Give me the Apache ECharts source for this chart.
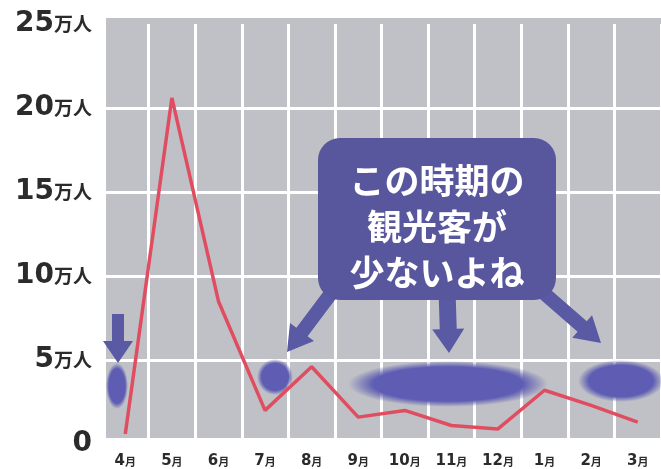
<!DOCTYPE html>
<html>
<head>
<meta charset="utf-8">
<script src="https://cdn.jsdelivr.net/npm/echarts@6/dist/echarts.min.js"></script>
<style>
html,body{margin:0;padding:0;background:#fff;}
#chart{width:661px;height:469px;}
</style>
</head>
<body>
<div id="chart"></div>
<script>
// ---- data ----
const months = ['4', '5', '6', '7', '8', '9', '10', '11', '12', '1', '2', '3'];
const monthUnit = '月';
const visitors = [0.6, 20.6, 8.5, 2.0, 4.6, 1.6, 2.0, 1.1, 0.9, 3.2, 2.3, 1.3]; // 万人
const yTicks = [0, 5, 10, 15, 20, 25];
const yUnit = '万人';
const calloutLines = ['この時期の', '観光客が', '少ないよね'];

// ---- decoration helpers ----
const BOX = '#58579d';
const ARROW = '#5a59a4';
const BLOB = '#5e5db3';
const GRAY = '#c0c1c6';

function arrow(x1, y1, x2, y2, sw, hw, hl) {
  const dx = x2 - x1, dy = y2 - y1;
  const len = Math.sqrt(dx * dx + dy * dy);
  const ux = dx / len, uy = dy / len;
  const nx = -uy, ny = ux;
  const bx = x2 - ux * hl, by = y2 - uy * hl;
  return {
    type: 'polygon', z: 20,
    shape: { points: [
      [x1 + nx * sw, y1 + ny * sw], [bx + nx * sw, by + ny * sw], [bx + nx * hw, by + ny * hw],
      [x2, y2],
      [bx - nx * hw, by - ny * hw], [bx - nx * sw, by - ny * sw], [x1 - nx * sw, y1 - ny * sw]
    ] },
    style: { fill: ARROW }
  };
}
function blob(cx, cy, rx, ry) {
  return {
    type: 'circle', z: 5, x: cx, y: cy, scaleX: rx / ry, scaleY: 1,
    shape: { cx: 0, cy: 0, r: ry },
    style: {
      fill: {
        type: 'radial', x: 0.5, y: 0.5, r: 0.5,
        colorStops: [
          { offset: 0, color: BLOB },
          { offset: 0.75, color: BLOB },
          { offset: 1, color: 'rgba(94,93,179,0)' }
        ]
      }
    }
  };
}

const chart = echarts.init(document.getElementById('chart'));
chart.setOption({
  animation: false,
  backgroundColor: '#ffffff',
  grid: { left: 102, top: 24, width: 573, height: 420 },
  xAxis: {
    type: 'category',
    data: months,
    boundaryGap: true,
    axisLine: { show: false },
    axisTick: { show: false },
    splitLine: { show: true, interval: 0, lineStyle: { color: '#ffffff', width: 3 } },
    axisLabel: {
      interval: 0, margin: 10,
      formatter: v => '{n|' + v + '}{u|' + monthUnit + '}',
      rich: {
        n: { fontFamily: 'DejaVu Sans', fontWeight: 'bold', fontSize: 15, color: '#2b2b2b' },
        u: { fontFamily: 'Noto Sans CJK JP', fontWeight: 'bold', fontSize: 11, color: '#2b2b2b' }
      }
    }
  },
  yAxis: {
    type: 'value',
    min: 0, max: 25, interval: 5,
    axisLine: { show: false },
    axisTick: { show: false },
    splitLine: { show: true, lineStyle: { color: ['#ffffff', '#ffffff', '#ffffff', '#ffffff', '#ffffff', 'rgba(0,0,0,0)'], width: 3 } },
    axisLabel: {
      margin: 10,
      formatter: v => yTicks.indexOf(v) >= 0 ? (v === 0 ? '{n|0}' : '{n|' + v + '}{u|' + yUnit + '}') : '',
      rich: {
        n: { fontFamily: 'DejaVu Sans', fontWeight: 'bold', fontSize: 28, color: '#2b2b2b' },
        u: { fontFamily: 'Noto Sans CJK JP', fontWeight: 'bold', fontSize: 19, color: '#2b2b2b' }
      }
    }
  },
  graphic: {
    elements: [
      { type: 'rect', z: -10, silent: true, shape: { x: 106, y: 18, width: 555, height: 420 }, style: { fill: GRAY } },
      blob(117, 386, 11, 23),
      blob(275, 377, 18, 18),
      blob(448, 384, 100, 23),
      blob(621, 381, 43, 21),
      arrow(118, 314, 118, 363, 6, 15, 22),
      arrow(335, 288, 287, 352, 7, 15, 25),
      arrow(447, 290, 449, 353, 8.5, 16, 24),
      arrow(538, 288, 601, 343, 7, 15, 25),
      { type: 'rect', z: 21, shape: { x: 318, y: 138, width: 238, height: 162, r: 22 }, style: { fill: BOX } },
      {
        type: 'text', z: 22, x: 437, y: 227,
        style: {
          text: calloutLines.join('\n'),
          fill: '#ffffff', fontFamily: 'Noto Sans CJK JP', fontWeight: 'bold', fontSize: 35,
          lineHeight: 46, align: 'center', verticalAlign: 'middle'
        }
      }
    ]
  },
  series: [{
    type: 'line',
    data: visitors,
    symbol: 'none',
    z: 10,
    lineStyle: { color: '#e04d60', width: 3.5 }
  }]
});
</script>
</body>
</html>
